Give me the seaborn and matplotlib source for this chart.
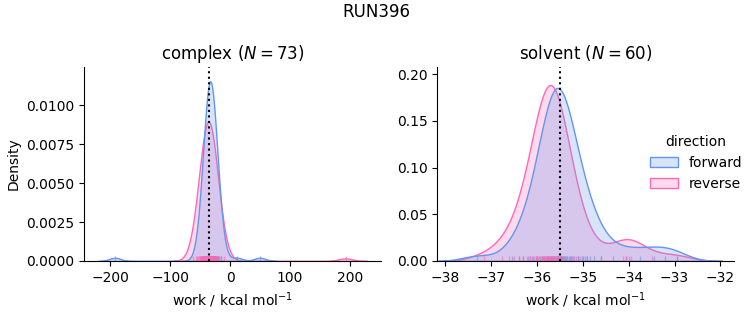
# -*- coding: utf-8 -*-
"""
RUN396 work distributions, complex and solvent phase, forward vs reverse
"""
# %% Import packages
import numpy as np
import pandas as pd
import matplotlib
matplotlib.use("Agg")
import matplotlib.pyplot as plt
import seaborn as sns

# %% Data (work values in kcal/mol)
run_name = "RUN396"
directions = ["forward", "reverse"]
palette = {"forward": "#6495ED", "reverse": "#FF69B4"}

complex_forward = [-192.4, 11.3, 49.8,
                   -50.2, -47.2, -45.6, -44.5, -43.6, -42.9, -42.2, -41.7, -41.2, -40.7,
                   -40.3, -39.9, -39.4, -39.1, -38.7, -38.4, -38.0, -37.7, -37.4, -37.1,
                   -36.8, -36.5, -36.3, -36.0, -35.7, -35.4, -35.2, -34.9, -34.6, -34.4,
                   -34.1, -33.9, -33.6, -33.4, -33.1, -32.9, -32.6, -32.4, -32.1, -31.9,
                   -31.6, -31.4, -31.1, -30.8, -30.6, -30.3, -30.0, -29.7, -29.5, -29.2,
                   -28.9, -28.6, -28.3, -28.0, -27.6, -27.3, -26.9, -26.6, -26.1, -25.7,
                   -25.3, -24.8, -24.3, -23.8, -23.4, -22.4, -21.8, -20.4, -18.8, -15.8]
complex_reverse = [193.2,
                   -61.5, -57.1, -54.7, -53.1, -51.8, -50.7, -49.7, -48.9, -48.2, -47.4,
                   -46.8, -46.2, -45.6, -45.0, -44.5, -44.0, -43.5, -43.0, -42.6, -42.1,
                   -41.7, -41.2, -40.8, -40.4, -40.0, -39.6, -39.2, -38.8, -38.4, -38.1,
                   -37.7, -37.3, -36.9, -36.6, -36.2, -36.0, -35.9, -35.8, -35.4, -35.1,
                   -34.6, -34.3, -33.9, -33.6, -33.2, -32.8, -32.4, -32.0, -31.6, -31.2,
                   -30.7, -30.3, -29.9, -29.4, -29.0, -28.5, -28.0, -27.5, -27.0, -26.4,
                   -25.8, -25.2, -24.6, -24.0, -23.3, -22.6, -21.8, -21.0, -19.8, -18.6,
                   -14.9, -10.5]

solvent_forward = [-37.3,
                   -36.55, -36.4, -36.3, -36.2, -36.1, -36.0,
                   -36.02, -35.93, -35.87, -35.84, -35.81, -35.78, -35.76, -35.74, -35.72,
                   -35.70, -35.69, -35.68, -35.65, -35.64, -35.63, -35.62, -35.59, -35.58,
                   -35.57, -35.56, -35.55, -35.54, -35.53, -35.50, -35.49, -35.48, -35.47,
                   -35.45, -35.43, -35.42, -35.40, -35.38, -35.36, -35.35, -35.31, -35.28,
                   -35.25, -35.19, -35.10, -35.0, -34.9,
                   -35.1, -35.02, -34.95, -34.85, -34.75, -34.6,
                   -34.35, -34.05, -33.75, -33.45, -33.2, -32.95]
solvent_reverse = [-37.15,
                   -36.75, -36.6, -36.5, -36.4, -36.3, -36.22, -36.15, -36.08,
                   -36.16, -36.06, -36.01, -35.97, -35.95, -35.92, -35.89, -35.88, -35.86,
                   -35.84, -35.83, -35.81, -35.80, -35.78, -35.77, -35.75, -35.74, -35.73,
                   -35.71, -35.70, -35.69, -35.67, -35.66, -35.65, -35.63, -35.62, -35.60,
                   -35.59, -35.57, -35.56, -35.54, -35.52, -35.50, -35.48, -35.45, -35.42,
                   -35.39, -35.34, -35.24, -35.22,
                   -35.25, -35.15, -35.05, -34.9,
                   -34.6, -34.12, -34.06, -34.0, -33.94, -33.5, -32.95]

# free energy estimate per phase (dotted line)
dg_estimate = {"complex": -35.0, "solvent": -35.5}
# density scaling so the curves match the reference normalisation
density_scale = {"complex": 0.72, "solvent": 0.52}
xlims = {"complex": None, "solvent": (-38.17, -31.7)}
ylims = {"complex": (0, 0.01245), "solvent": (0, 0.2077)}

# %% Build dataframes
def make_df(fwd, rev):
    df = pd.DataFrame({"work": fwd + rev,
                       "direction": ["forward"] * len(fwd) + ["reverse"] * len(rev)})
    return df

phase_data = {"complex": make_df(complex_forward, complex_reverse),
              "solvent": make_df(solvent_forward, solvent_reverse)}
n_cycles = {"complex": len(complex_forward), "solvent": len(solvent_forward)}

# %% Plot
plt.rcParams["font.family"] = ["DejaVu Sans"]
fig, axes = plt.subplots(1, 2, figsize=(7.53, 3.25), dpi=100)
fig.subplots_adjust(left=0.1116, right=0.975, bottom=0.197, top=0.794, wspace=0.19)

for ax, phase in zip(axes, ["complex", "solvent"]):
    df = phase_data[phase]
    sns.kdeplot(data=df, x="work", hue="direction", hue_order=directions,
                palette=palette, fill=True, common_norm=True, linewidth=1,
                alpha=0.25, ax=ax)
    # rescale the kde polygons
    for coll in ax.collections:
        for path in coll.get_paths():
            path.vertices[:, 1] *= density_scale[phase]
    sns.rugplot(data=df, x="work", hue="direction", hue_order=directions,
                palette=palette, height=0.025, alpha=0.6, linewidth=1,
                legend=False, ax=ax)
    ax.axvline(dg_estimate[phase], color="black", linestyle=":", linewidth=1.5)
    if xlims[phase] is not None:
        ax.set_xlim(xlims[phase])
    ax.set_ylim(ylims[phase])
    ax.set_title(phase + " ($N = %d$)" % n_cycles[phase], fontsize=12)
    ax.set_xlabel("work / kcal mol$^{-1}$")
    sns.despine(ax=ax)

axes[0].set_ylabel("Density")
axes[1].set_ylabel("")
axes[0].get_legend().remove()
sns.move_legend(axes[1], "center right", bbox_to_anchor=(1.07, 0.505),
                frameon=False, fontsize=10, title_fontsize=10)

fig.suptitle(run_name, fontsize=12, y=0.99)
fig.savefig("out.png", dpi=100)
